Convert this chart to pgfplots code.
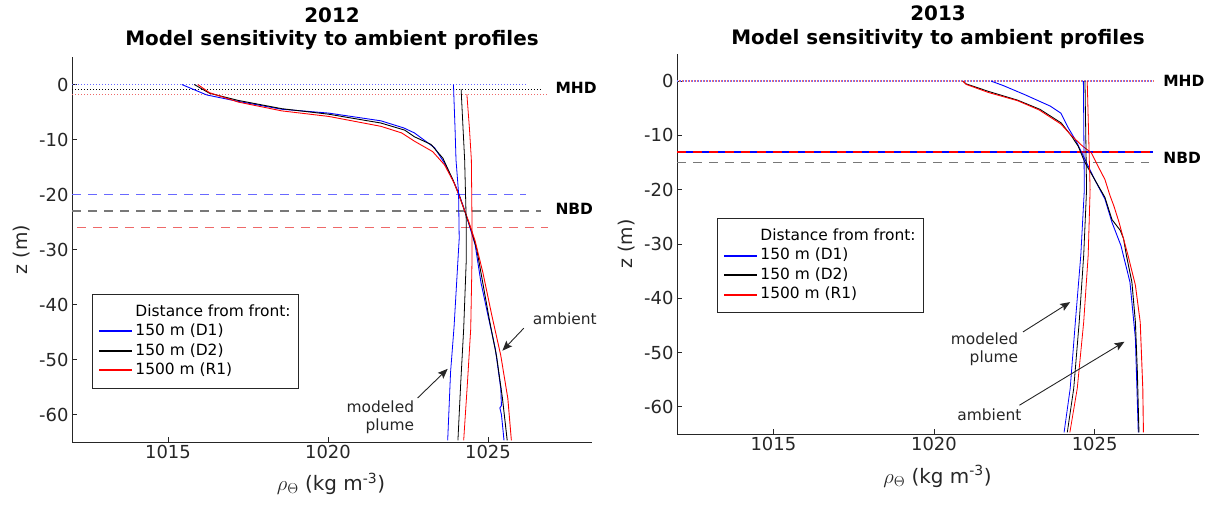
\documentclass[border=0pt]{standalone}
\usepackage{fontspec}
\setmainfont{DejaVu Sans}
\usepackage{pgfplots}
\pgfplotsset{compat=1.18}
\usetikzlibrary{arrows.meta}
\definecolor{axgray}{HTML}{262626}
\definecolor{mblue}{RGB}{0,0,255}
\definecolor{mred}{RGB}{255,0,0}
\definecolor{lblue}{RGB}{105,105,255}
\definecolor{lgray}{RGB}{120,120,120}
\definecolor{lred}{RGB}{238,105,105}
\definecolor{dblue}{RGB}{110,110,255}
\definecolor{dred}{RGB}{240,110,110}

\pgfplotsset{
  prof/.style={
    scale only axis, xmin=1012, xmax=1028.25, ymin=-65, ymax=5,
    axis x line*=bottom, axis y line*=left,
    axis line style={axgray, line width=0.9bp},
    tick align=inside, major tick length=5bp,
    every tick/.style={axgray, line width=0.9bp},
    xtick={1015,1020,1025}, xticklabels={1015,1020,1025},
    ytick={-60,-50,-40,-30,-20,-10,0}, yticklabels={-60,-50,-40,-30,-20,-10,0},
    scaled ticks=false,
    ticklabel style={font=\fontsize{18}{21}\selectfont, text=axgray},
    clip=false,
    legend cell align=left,
    legend image code/.code={\draw[##1] (0bp,0bp) -- (33bp,0bp);},
    legend style={anchor=north west, draw=axgray, line width=0.9bp, fill=white,
      inner xsep=6bp, inner ysep=8bp, font=\fontsize{15.5}{18}\selectfont,
      nodes={text height=12bp, text depth=3.5bp, inner ysep=2bp, inner xsep=2bp}},
  },
  amb/.style={line width=0.9bp, forget plot},
  plm/.style={line width=0.8bp, forget plot},
  mhd/.style={line width=1.1bp, dash pattern=on 1.2bp off 1.8bp, forget plot},
  nbd/.style={line width=1.6bp, dash pattern=on 9bp off 7bp, forget plot},
}
\tikzset{
  lab/.style={font=\bfseries\fontsize{15.5}{18}\selectfont, anchor=west},
  ann/.style={font=\fontsize{15.5}{18}\selectfont, text=axgray},
  arr/.style={axgray, line width=0.9bp, -{Stealth[length=10bp, width=8bp, inset=2bp]}},
}

\begin{document}
\begin{tikzpicture}
\path[use as bounding box] (0,0) rectangle (1207bp,505bp);

% ---------------- 2012 ----------------
\begin{axis}[prof, at={(72bp,63bp)}, anchor=south west, width=520bp, height=385bp,
  legend style={at={(0.0385,0.385)}}]
  \addlegendimage{empty legend}\addlegendentry{Distance from front:}
  \addlegendimage{mblue, line width=2bp}\addlegendentry{150 m (D1)}
  \addlegendimage{black, line width=2bp}\addlegendentry{150 m (D2)}
  \addlegendimage{mred, line width=2bp}\addlegendentry{1500 m (R1)}
  % MHD and NBD
  \addplot[mhd, lblue] coordinates {(1012,0) (1026.2,0)};
  \addplot[mhd, black] coordinates {(1012,-0.9) (1026.67,-0.9)};
  \addplot[mhd, lred] coordinates {(1012,-1.8) (1026.88,-1.8)};
  \addplot[nbd, lblue] coordinates {(1012,-20) (1026.2,-20)};
  \addplot[nbd, lgray] coordinates {(1012,-23) (1026.67,-23)};
  \addplot[nbd, lred] coordinates {(1012.15,-26) (1026.88,-26)};
  % ambient profiles
  \addplot[amb, mblue] coordinates {(1015.43,0) (1016.21,-1.9) (1017.22,-3.1) (1018.56,-4.5) (1020.02,-5.2) (1021.65,-6.6) (1022.37,-7.9) (1022.7,-8.8) (1023.33,-11.5) (1023.64,-14.3) (1023.9,-17.3) (1024.08,-19.7) (1024.26,-22.7) (1024.42,-25.7) (1024.6,-29.2) (1024.78,-36.0) (1025.0,-42.0) (1025.23,-48.1) (1025.4,-55.3) (1025.42,-58.4) (1025.37,-58.8) (1025.42,-60.0) (1025.5,-64.7)};
  \addplot[amb, black] coordinates {(1015.82,0) (1016.3,-1.6) (1017.2,-2.9) (1018.56,-4.4) (1020.02,-5.4) (1021.65,-7.0) (1022.4,-8.3) (1022.7,-9.5) (1023.22,-10.9) (1023.59,-13.4) (1023.9,-17.3) (1024.1,-20.2) (1024.3,-23.5) (1024.48,-26.5) (1024.65,-30) (1024.85,-36.5) (1025.05,-43) (1025.27,-49.5) (1025.45,-57) (1025.6,-64.7)};
  \addplot[amb, mred] coordinates {(1015.93,0) (1016.3,-1.5) (1017.2,-3.2) (1018.56,-4.8) (1020.02,-5.8) (1021.65,-7.6) (1022.3,-8.8) (1022.7,-10.3) (1023.27,-12.2) (1023.64,-14.6) (1023.95,-18.0) (1024.15,-21.0) (1024.4,-25) (1024.6,-28.5) (1024.84,-34.2) (1025.12,-42) (1025.4,-49.3) (1025.62,-57.1) (1025.73,-64.7)};
  % modeled plumes
  \addplot[plm, mblue] coordinates {(1023.92,0) (1023.97,-8) (1024.0,-13.7) (1024.08,-19.7) (1024.1,-28) (1024.0,-38) (1023.94,-44) (1023.83,-52.3) (1023.74,-64.7)};
  \addplot[plm, black] coordinates {(1024.16,-0.9) (1024.22,-8) (1024.27,-13.7) (1024.32,-25) (1024.32,-32) (1024.24,-44.4) (1024.15,-54) (1024.06,-64.7)};
  \addplot[plm, mred] coordinates {(1024.34,-1.8) (1024.42,-8) (1024.48,-13.7) (1024.5,-25) (1024.5,-32) (1024.46,-44.4) (1024.36,-54) (1024.24,-64.7)};
  \node[lab] at (axis cs:1027.0,-0.6) {MHD};
  \node[lab] at (axis cs:1027.0,-22.6) {NBD};
  \node[ann, anchor=west] at (axis cs:1026.29,-42.6) {ambient};
  \draw[arr] (axis cs:1026.12,-44.3) -- (axis cs:1025.45,-48.4);
  \node[ann, anchor=east, align=right] at (axis cs:1022.8,-60.5) {modeled\\plume};
  \draw[arr] (axis cs:1022.8,-57.0) -- (axis cs:1023.74,-51.7);
\end{axis}

% ---------------- 2013 ----------------
\begin{axis}[prof, at={(677bp,71bp)}, anchor=south west, width=522bp, height=380bp,
  legend style={at={(0.0766,0.5684)}}]
  \addlegendimage{empty legend}\addlegendentry{Distance from front:}
  \addlegendimage{mblue, line width=2bp}\addlegendentry{150 m (D1)}
  \addlegendimage{black, line width=2bp}\addlegendentry{150 m (D2)}
  \addlegendimage{mred, line width=2bp}\addlegendentry{1500 m (R1)}
  \addplot[mhd, dblue, line width=1.3bp] coordinates {(1012,0) (1026.83,0)};
  \addplot[mhd, dred, line width=1.3bp, dash phase=1.5bp] coordinates {(1012,0) (1026.83,0)};
  \addplot[nbd, lgray] coordinates {(1012,-15) (1026.7,-15)};
  \addplot[line width=1.8bp, mblue, forget plot] coordinates {(1012,-13) (1026.83,-13)};
  \addplot[line width=1.8bp, mred, dash pattern=on 9bp off 7bp, forget plot] coordinates {(1012,-13) (1026.83,-13)};
  \addplot[amb, mblue] coordinates {(1021.78,0) (1022.15,-0.8) (1022.83,-2.5) (1023.62,-4.6) (1023.95,-5.9) (1024.18,-8.6) (1024.42,-11.0) (1024.7,-14.4) (1025.0,-18.1) (1025.32,-21.7) (1025.54,-26.0) (1025.82,-30.3) (1026.1,-37) (1026.27,-47.4) (1026.36,-64.7)};
  \addplot[amb, black] coordinates {(1020.9,0) (1021.0,-0.5) (1021.7,-1.9) (1022.6,-3.5) (1023.3,-5.2) (1023.96,-7.7) (1024.28,-10.1) (1024.49,-12.0) (1024.7,-15.0) (1025.0,-18.1) (1025.32,-21.4) (1025.54,-25.5) (1025.8,-27.5) (1025.9,-29) (1025.99,-32.1) (1026.16,-37.0) (1026.27,-44.4) (1026.33,-53.5) (1026.38,-64.7)};
  \addplot[amb, mred] coordinates {(1020.9,0) (1021.0,-0.6) (1021.7,-2.1) (1022.6,-3.6) (1023.27,-5.3) (1023.95,-7.9) (1024.29,-10.1) (1024.63,-12.0) (1024.9,-13.2) (1025.1,-15.6) (1025.32,-18.1) (1025.48,-21.1) (1025.6,-23) (1025.76,-26.0) (1026.04,-32.1) (1026.27,-37.6) (1026.42,-44.4) (1026.5,-56.6) (1026.52,-64.7)};
  \addplot[plm, mblue] coordinates {(1024.65,0) (1024.68,-20) (1024.57,-32.1) (1024.4,-44.4) (1024.24,-56.6) (1024.05,-64.7)};
  \addplot[plm, black] coordinates {(1024.7,0) (1024.75,-20) (1024.66,-32.1) (1024.52,-44.4) (1024.35,-56.6) (1024.15,-64.7)};
  \addplot[plm, mred] coordinates {(1024.77,0) (1024.86,-20) (1024.8,-32.1) (1024.66,-44.4) (1024.46,-56.6) (1024.23,-64.7)};
  \node[lab] at (axis cs:1027.03,0.1) {MHD};
  \node[lab] at (axis cs:1027.03,-14.1) {NBD};
  \node[ann, anchor=east, align=right] at (axis cs:1022.73,-49.4) {modeled\\plume};
  \draw[arr] (axis cs:1022.77,-46.2) -- (axis cs:1024.24,-40.7);
  \node[ann, anchor=west] at (axis cs:1020.62,-61.5) {ambient};
  \draw[arr] (axis cs:1022.66,-59.7) -- (axis cs:1025.93,-48.0);
\end{axis}

% titles and axis labels
\node[anchor=base, font=\bfseries\fontsize{20}{24}\selectfont] at (332bp,482.5bp) {2012};
\node[anchor=base, font=\bfseries\fontsize{20}{24}\selectfont] at (332bp,459bp) {Model sensitivity to ambient profiles};
\node[anchor=base, font=\bfseries\fontsize{20}{24}\selectfont] at (938bp,484.3bp) {2013};
\node[anchor=base, font=\bfseries\fontsize{20}{24}\selectfont] at (938bp,460.7bp) {Model sensitivity to ambient profiles};
\node[anchor=base, font=\fontsize{20}{24}\selectfont, text=axgray] at (331bp,14.3bp) {$\rho_\Theta$ (kg m\textsuperscript{-3})};
\node[anchor=base, font=\fontsize{20}{24}\selectfont, text=axgray] at (937.5bp,21.7bp) {$\rho_\Theta$ (kg m\textsuperscript{-3})};
\node[rotate=90, font=\fontsize{19}{22}\selectfont, text=axgray] at (22bp,255.5bp) {z (m)};
\node[rotate=90, font=\fontsize{19}{22}\selectfont, text=axgray] at (627bp,261bp) {z (m)};
\end{tikzpicture}
\end{document}
